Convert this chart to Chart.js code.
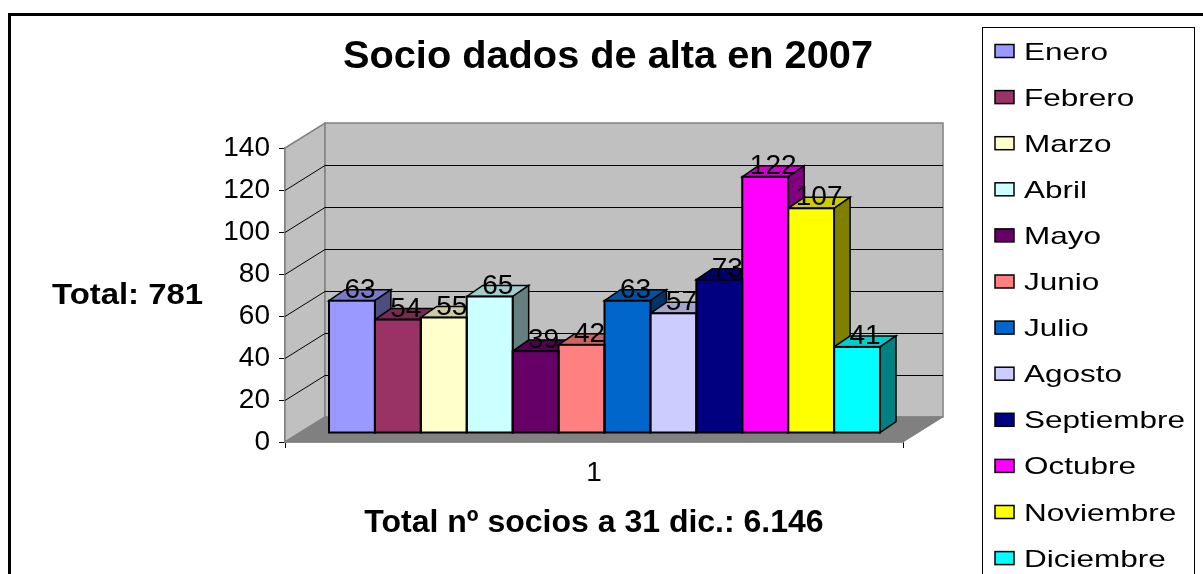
<!DOCTYPE html>
<html lang="es">
<head>
<meta charset="UTF-8">
<title>Socio dados de alta en 2007</title>
<script src="https://cdn.jsdelivr.net/npm/chart.js@4"></script>
<style>
  body { margin: 0; background: #fff; }
  #wrap { width: 1203px; height: 574px; }
</style>
</head>
<body>
<div id="wrap"><canvas id="chart" width="1203" height="574"></canvas></div>
<script>
// data
const categories = ['1'];
const months = ['Enero', 'Febrero', 'Marzo', 'Abril', 'Mayo', 'Junio', 'Julio',
                'Agosto', 'Septiembre', 'Octubre', 'Noviembre', 'Diciembre'];
const altas = [63, 54, 55, 65, 39, 42, 63, 57, 73, 122, 107, 41];
const monthColors = ['#9999FF', '#993366', '#FFFFCC', '#CCFFFF', '#660066', '#FF8080',
                     '#0066CC', '#CCCCFF', '#000080', '#FF00FF', '#FFFF00', '#00FFFF'];
const yTicks = [0, 20, 40, 60, 80, 100, 120, 140];
const chartTitle = 'Socio dados de alta en 2007';
const totalAltas = 'Total: 781';
const totalSocios = 'Total nº socios a 31 dic.: 6.146';

const FONT = 'Arial, "Liberation Sans", sans-serif';
Chart.defaults.font.family = FONT;

// fake 3d: wall depth, where the bars sit inside it, and bar depth
const WALL = { dx: 40, dy: -25 };
const SHIFT = { dx: 10.5, dy: -9 };
const DEPTH = { dx: 16, dy: -11 };

function shade(hex, f) {
  const n = parseInt(hex.slice(1), 16);
  const r = Math.round(((n >> 16) & 255) * f);
  const g = Math.round(((n >> 8) & 255) * f);
  const b = Math.round((n & 255) * f);
  return `rgb(${r},${g},${b})`;
}

function poly(ctx, pts, fill, stroke, lw) {
  ctx.beginPath();
  pts.forEach((p, i) => i ? ctx.lineTo(p[0], p[1]) : ctx.moveTo(p[0], p[1]));
  ctx.closePath();
  if (fill) { ctx.fillStyle = fill; ctx.fill(); }
  if (stroke) { ctx.strokeStyle = stroke; ctx.lineWidth = lw || 1; ctx.stroke(); }
}

function line(ctx, x1, y1, x2, y2, color, lw) {
  ctx.beginPath();
  ctx.moveTo(x1, y1);
  ctx.lineTo(x2, y2);
  ctx.strokeStyle = color;
  ctx.lineWidth = lw || 1;
  ctx.stroke();
}

// text squeezed/stretched to a width, like the excel export
function fitText(ctx, text, x, y, sx) {
  ctx.save();
  ctx.translate(x, y);
  ctx.scale(sx, 1);
  ctx.fillText(text, 0, 0);
  ctx.restore();
}

function barBoxes(chart) {
  return chart.data.datasets.map((ds, i) => {
    const el = chart.getDatasetMeta(i).data[0];
    return {
      xl: el.x - el.width / 2 + SHIFT.dx,
      xr: el.x + el.width / 2 + SHIFT.dx,
      yt: el.y + SHIFT.dy,
      yb: el.base + SHIFT.dy,
      cx: el.x + SHIFT.dx,
      color: ds.backgroundColor,
      value: ds.data[0]
    };
  });
}

const scene3d = {
  id: 'scene3d',
  beforeDatasetsDraw(chart) {
    const { ctx, chartArea: a, scales: { y } } = chart;
    const L = a.left, R = a.right, T = a.top, B = a.bottom;
    const dx = WALL.dx, dy = WALL.dy;
    ctx.save();
    ctx.lineJoin = 'miter';
    // walls and floor
    poly(ctx, [[L, B], [L, T], [L + dx, T + dy], [L + dx, B + dy]], '#C0C0C0', '#808080', 1.5);
    poly(ctx, [[L + dx, T + dy], [R + dx, T + dy], [R + dx, B + dy], [L + dx, B + dy]], '#C0C0C0', '#808080', 1.5);
    poly(ctx, [[L, B], [R, B], [R + dx, B + dy], [L + dx, B + dy]], '#808080', '#808080', 1);
    // gridlines on side and back wall
    yTicks.filter(v => v > 0 && v < yTicks[yTicks.length - 1]).forEach(v => {
      const py = Math.round(y.getPixelForValue(v)) + 0.5;
      line(ctx, L, py, L + dx, py + dy, '#000', 1);
      line(ctx, L + dx, py + dy, R + dx, py + dy, '#000', 1);
    });
    // tops and sides of the columns, left to right
    barBoxes(chart).forEach(b => {
      poly(ctx, [[b.xl, b.yt], [b.xl + DEPTH.dx, b.yt + DEPTH.dy], [b.xr + DEPTH.dx, b.yt + DEPTH.dy], [b.xr, b.yt]],
        shade(b.color, 0.8), '#000', 1.5);
      poly(ctx, [[b.xr, b.yt], [b.xr + DEPTH.dx, b.yt + DEPTH.dy], [b.xr + DEPTH.dx, b.yb + DEPTH.dy], [b.xr, b.yb]],
        shade(b.color, 0.5), '#000', 1.5);
    });
    ctx.restore();
    // fronts drawn by chart.js, pushed back into the box
    ctx.save();
    ctx.translate(SHIFT.dx, SHIFT.dy);
  },
  afterDatasetsDraw(chart) {
    const { ctx } = chart;
    ctx.restore();
    ctx.save();
    const boxes = barBoxes(chart);
    boxes.forEach(b => {
      ctx.strokeStyle = '#000';
      ctx.lineWidth = 2;
      ctx.strokeRect(b.xl, b.yt, b.xr - b.xl, b.yb - b.yt);
    });
    // value labels
    ctx.fillStyle = '#000';
    ctx.font = '28px ' + FONT;
    ctx.textAlign = 'center';
    ctx.textBaseline = 'alphabetic';
    boxes.forEach(b => {
      ctx.fillText(String(b.value), b.cx + 8, b.yt - 3);
    });
    ctx.restore();
  },
  afterDraw(chart) {
    const { ctx } = chart;
    ctx.save();
    ctx.fillStyle = '#000';
    ctx.textBaseline = 'alphabetic';
    ctx.textAlign = 'left';

    // title
    ctx.font = 'bold 39px ' + FONT;
    fitText(ctx, chartTitle, 343, 68, 530 / ctx.measureText(chartTitle).width);

    // left note
    ctx.font = 'bold 29px ' + FONT;
    fitText(ctx, totalAltas, 52, 304, 151 / ctx.measureText(totalAltas).width);

    // legend
    ctx.strokeStyle = '#000';
    ctx.lineWidth = 1;
    ctx.strokeRect(982.5, 27.5, 212, 600);
    ctx.font = '24px ' + FONT;
    const longest = months.reduce((a, b) => ctx.measureText(b).width > ctx.measureText(a).width ? b : a);
    const sx = 161 / ctx.measureText(longest).width;
    months.forEach((m, i) => {
      const cy = 51 + i * 46.1;
      ctx.fillStyle = monthColors[i];
      ctx.fillRect(995, cy - 6.5, 19, 13);
      ctx.lineWidth = 1.5;
      ctx.strokeRect(995, cy - 6.5, 19, 13);
      ctx.fillStyle = '#000';
      fitText(ctx, m, 1024, cy + 8.5, sx);
    });

    // outer frame
    ctx.lineWidth = 3;
    ctx.strokeRect(9.5, 14.5, 1400, 800);
    ctx.restore();
  }
};

new Chart(document.getElementById('chart'), {
  type: 'bar',
  data: {
    labels: categories,
    datasets: months.map((m, i) => ({
      label: m,
      data: [altas[i]],
      backgroundColor: monthColors[i],
      borderWidth: 0,
      categoryPercentage: 0.8916,
      barPercentage: 1
    }))
  },
  options: {
    responsive: false,
    animation: false,
    devicePixelRatio: 1,
    layout: { padding: { left: 0, right: 300, top: 148, bottom: 0 } },
    plugins: {
      legend: { display: false },
      title: { display: false },
      tooltip: { enabled: false }
    },
    scales: {
      x: {
        z: 1,
        offset: true,
        grid: { offset: true, drawOnChartArea: false, tickLength: 6, tickColor: '#000', color: '#000' },
        border: { color: '#404040', width: 1.5 },
        ticks: { color: '#000', font: { size: 28 }, padding: 8 },
        title: {
          display: true,
          text: totalSocios,
          color: '#000',
          font: { size: 32, weight: 'bold' },
          padding: { top: 0, bottom: 32 }
        },
        afterFit(scale) { scale.height = 132; }
      },
      y: {
        z: 1,
        min: yTicks[0],
        max: yTicks[yTicks.length - 1],
        grid: { drawOnChartArea: false, tickLength: 6, tickColor: '#000', color: '#000' },
        border: { color: '#808080', width: 1.5 },
        ticks: { color: '#000', font: { size: 28 }, padding: 9 },
        afterBuildTicks(scale) { scale.ticks = yTicks.map(v => ({ value: v })); },
        afterFit(scale) { scale.width = 285; }
      }
    }
  },
  plugins: [scene3d]
});
</script>
</body>
</html>
